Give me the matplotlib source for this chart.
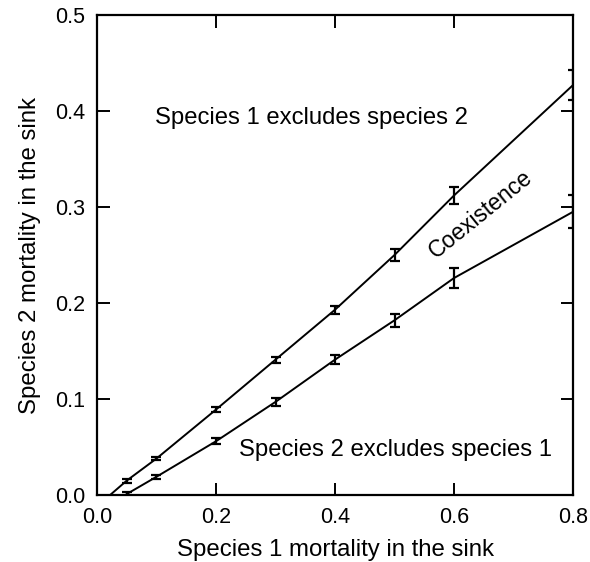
import matplotlib
matplotlib.use("Agg")
import matplotlib.pyplot as plt

plt.rcParams['font.family'] = ['Liberation Sans', 'DejaVu Sans']

# Upper boundary (species 1 excludes species 2 above)
upper_x = [0.05, 0.1, 0.2, 0.3, 0.4, 0.5, 0.6, 0.8]
upper_y = [0.015, 0.038, 0.089, 0.141, 0.193, 0.250, 0.312, 0.427]
upper_err = [0.002, 0.002, 0.003, 0.003, 0.004, 0.006, 0.009, 0.016]
upper_line_x = [0.022] + upper_x
upper_line_y = [0.0] + upper_y

# Lower boundary (species 2 excludes species 1 below)
lower_x = [0.05, 0.1, 0.2, 0.3, 0.4, 0.5, 0.6, 0.8]
lower_y = [0.001, 0.019, 0.056, 0.097, 0.141, 0.182, 0.226, 0.295]
lower_err = [0.002, 0.002, 0.003, 0.004, 0.005, 0.007, 0.010, 0.017]

xticks = [0.0, 0.2, 0.4, 0.6, 0.8]
yticks = [0.0, 0.1, 0.2, 0.3, 0.4, 0.5]

fig = plt.figure(figsize=(5.9, 5.62), dpi=100)
ax = fig.add_axes([0.1644, 0.1192, 0.8068, 0.8541])

ax.plot(upper_line_x, upper_line_y, color='black', lw=1.4)
ax.errorbar(upper_x, upper_y, yerr=upper_err, fmt='none', ecolor='black',
            elinewidth=1.6, capsize=3.5, capthick=1.6)
ax.plot(lower_x, lower_y, color='black', lw=1.4)
ax.errorbar(lower_x, lower_y, yerr=lower_err, fmt='none', ecolor='black',
            elinewidth=1.6, capsize=3.5, capthick=1.6)

ax.text(0.361, 0.393, "Species 1 excludes species 2", fontsize=17.2,
        ha='center', va='center')
ax.text(0.501, 0.047, "Species 2 excludes species 1", fontsize=17.2,
        ha='center', va='center')
ax.text(0.645, 0.292, "Coexistence", fontsize=16.5, rotation=39,
        ha='center', va='center', rotation_mode='anchor')

ax.set_xlim(0.0, 0.8)
ax.set_ylim(0.0, 0.5)
ax.set_xticks(xticks)
ax.set_yticks(yticks)
ax.set_xticklabels([f"{v:.1f}" for v in xticks])
ax.set_yticklabels([f"{v:.1f}" for v in yticks])
ax.tick_params(direction='in', length=9, width=1.4, labelsize=15.5,
               top=True, right=True, pad=8.6)
for s in ax.spines.values():
    s.set_linewidth(1.6)

ax.set_xlabel("Species 1 mortality in the sink", fontsize=17.3, labelpad=8)
ax.set_ylabel("Species 2 mortality in the sink", fontsize=17.3, labelpad=10)

fig.savefig("out.png", dpi=100)
